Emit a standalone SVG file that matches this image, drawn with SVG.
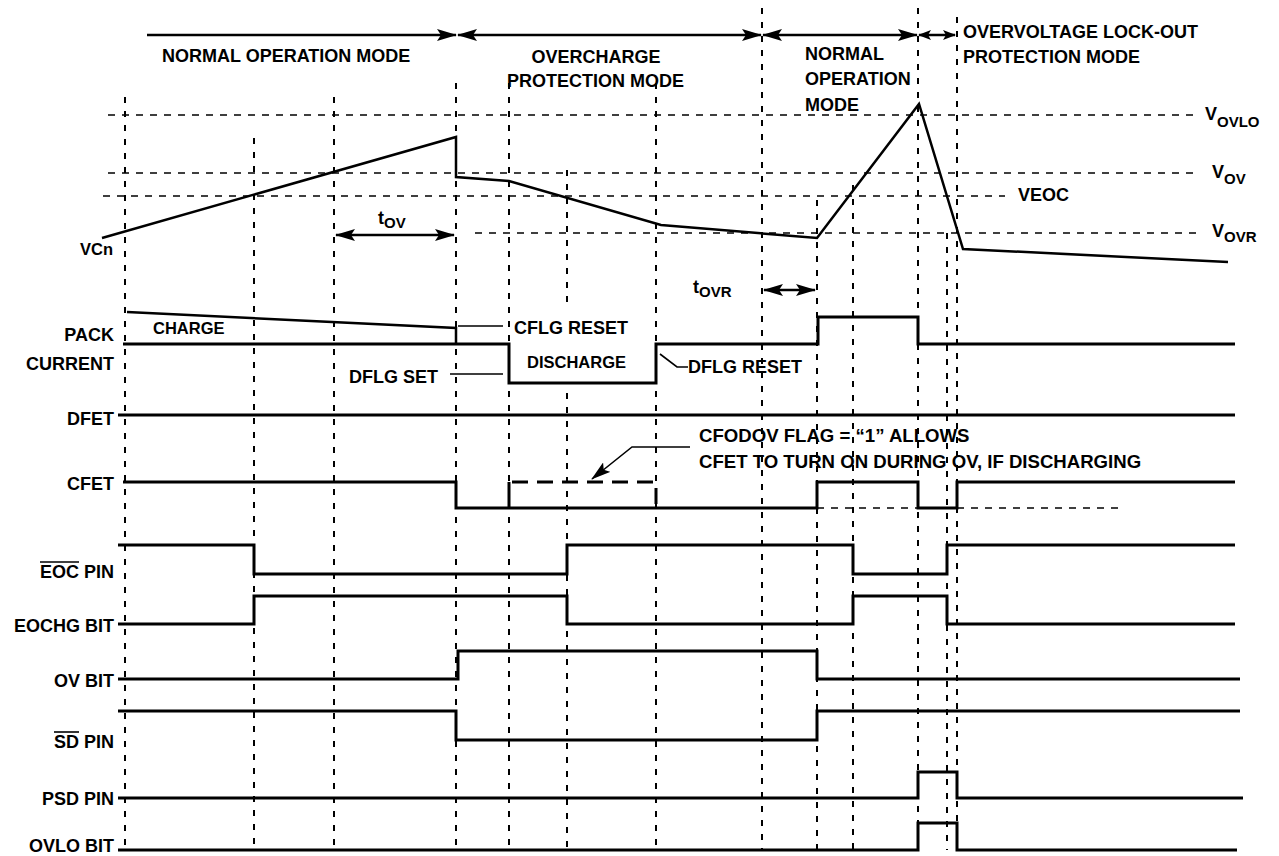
<svg xmlns="http://www.w3.org/2000/svg" width="1279" height="856" viewBox="0 0 1279 856">
<style>
text{font-family:"Liberation Sans",Arial,sans-serif;font-weight:bold;font-size:18px;fill:#000}
.sm{font-size:16.5px}
.sub{font-size:15px}
.co{font-size:18.6px}
.lbl{text-anchor:end}
.grid{stroke:#000;stroke-width:2;stroke-dasharray:6 8;fill:none}
.hgrid{stroke:#000;stroke-width:1.6;stroke-dasharray:7 7;fill:none}
.sig{stroke:#000;stroke-width:3;fill:none}
.ana{stroke:#000;stroke-width:2.5;fill:none;stroke-linejoin:miter}
.thin{stroke:#000;stroke-width:1.6;fill:none}
.arr{stroke:#000;stroke-width:2.5;fill:none}
</style>
<defs>
<marker id="ah" markerWidth="20" markerHeight="12" refX="19" refY="6" orient="auto-start-reverse" markerUnits="userSpaceOnUse"><path d="M0,0 L20,6 L0,12 L4,6 z" fill="#000"/></marker>
<marker id="ahs" markerWidth="13" markerHeight="10" refX="12" refY="5" orient="auto-start-reverse" markerUnits="userSpaceOnUse"><path d="M0,0 L13,5 L0,10 L3,5 z" fill="#000"/></marker>
</defs>
<rect width="1279" height="856" fill="#fff"/>

<g id="grid-vertical">
<path class="grid" d="M125,97 V850 M254,138 V850 M334,97 V850 M456,83 V850 M509,83 V850 M567,170 V308 M567,393 V850 M656,83 V850 M762,8 V850 M817,200 V850 M853,185 V850 M918,8 V850 M947,233 V850 M957,17 V850"/>
</g>
<g id="grid-horizontal">
<path class="hgrid" d="M108,115 H1200 M108,173 H1200 M103,196 H1005 M475,233 H1200"/>
</g>

<g id="connectors">
<line class="arr" x1="147" y1="35" x2="456" y2="35" marker-end="url(#ah)"/>
<line class="arr" x1="458" y1="35" x2="761" y2="35" marker-start="url(#ah)" marker-end="url(#ah)"/>
<line class="arr" x1="763" y1="35" x2="917" y2="35" marker-start="url(#ah)" marker-end="url(#ah)"/>
<line class="arr" x1="919" y1="35" x2="955" y2="35" marker-start="url(#ahs)" marker-end="url(#ahs)"/>
<line class="arr" x1="336" y1="235" x2="454" y2="235" marker-start="url(#ah)" marker-end="url(#ah)"/>
<line class="arr" x1="764" y1="290" x2="815" y2="290" marker-start="url(#ah)" marker-end="url(#ah)"/>
<path class="thin" d="M690,447 H632 L592,479" marker-end="url(#ah)"/>
<path class="thin" d="M458,326 H503 M450,374 H503 M660,354 L677,367 H688"/>
</g>

<g id="header">
<text x="162" y="62">NORMAL OPERATION MODE</text>
<text x="596" y="63" text-anchor="middle">OVERCHARGE</text>
<text x="507" y="87">PROTECTION MODE</text>
<text x="805" y="60">NORMAL</text>
<text x="805" y="85">OPERATION</text>
<text x="805" y="111">MODE</text>
<text x="963" y="38">OVERVOLTAGE LOCK-OUT</text>
<text x="963" y="63">PROTECTION MODE</text>
</g>

<g id="levels">
<text x="1205" y="120">V<tspan class="sub" dy="7">OVLO</tspan></text>
<text x="1212" y="178">V<tspan class="sub" dy="6">OV</tspan></text>
<text x="1018" y="201">VEOC</text>
<text x="1212" y="237">V<tspan class="sub" dy="5">OVR</tspan></text>
<text x="378" y="224">t<tspan class="sub" dy="4">OV</tspan></text>
<text x="693" y="293">t<tspan class="sub" dy="4">OVR</tspan></text>
</g>

<g id="vcn">
<text class="sm" x="80" y="255">VCn</text>
<polyline class="ana" points="102,238 456,137 456,177 509,181 661,225 817,238 919,104 963,249 1228,262"/>
</g>

<g id="pack-current">
<text class="lbl" x="114" y="341">PACK</text>
<text class="lbl" x="114" y="370">CURRENT</text>
<path class="ana" d="M127,312 L456,328 V344"/>
<path class="sig" d="M123,344 H509 V383 H656 V344 H818 V317 H918 V344 H1235"/>
<text class="sm" x="153" y="334">CHARGE</text>
<text x="514" y="334">CFLG RESET</text>
<text x="349" y="383">DFLG SET</text>
<text class="sm" x="527" y="368">DISCHARGE</text>
<text x="688" y="373">DFLG RESET</text>
</g>

<g id="dfet">
<text class="lbl" x="114" y="425">DFET</text>
<path class="sig" d="M118,415 H1235"/>
</g>

<g id="cfet">
<text class="lbl" x="114" y="490">CFET</text>
<path class="sig" d="M123,482 H456 V508 H817 V482 H918 V508 H957 V482 H1235"/>
<path class="sig" d="M509,508 V482"/>
<path class="sig" d="M512,482 H656 V508" stroke-dasharray="16 9"/>
<path class="hgrid" d="M817,508 H1118"/>
<text class="co" x="699" y="442">CFODOV FLAG = “1” ALLOWS</text>
<text class="co" x="699" y="468">CFET TO TURN ON DURING OV, IF DISCHARGING</text>
</g>

<g id="eoc-pin">
<text class="lbl" x="114" y="578">EOC PIN</text>
<line class="thin" x1="40" y1="562" x2="79" y2="562"/>
<path class="sig" d="M118,545 H254 V574 H567 V545 H853 V574 H947 V545 H1235"/>
</g>

<g id="eochg-bit">
<text class="lbl" x="114" y="632">EOCHG BIT</text>
<path class="sig" d="M118,624 H254 V596 H567 V624 H853 V596 H947 V624 H1235"/>
</g>

<g id="ov-bit">
<text class="lbl" x="114" y="687">OV BIT</text>
<path class="sig" d="M118,679 H458 V651 H817 V679 H1240"/>
</g>

<g id="sd-pin">
<text class="lbl" x="114" y="748">SD PIN</text>
<line class="thin" x1="54" y1="732" x2="79" y2="732"/>
<path class="sig" d="M118,711 H456 V740 H817 V711 H1240"/>
</g>

<g id="psd-pin">
<text class="lbl" x="114" y="805">PSD PIN</text>
<path class="sig" d="M118,798 H918 V772 H957 V798 H1243"/>
</g>

<g id="ovlo-bit">
<text class="lbl" x="114" y="852">OVLO BIT</text>
<path class="sig" d="M118,850 H918 V823 H957 V850 H1237"/>
</g>
</svg>
